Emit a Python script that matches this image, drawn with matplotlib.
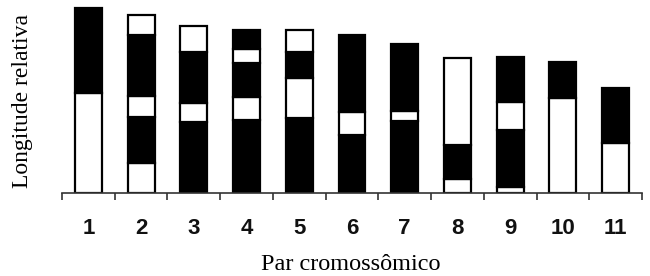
import matplotlib
matplotlib.use("Agg")
import matplotlib.pyplot as plt

# chromosome pairs and band lengths (from base upward), relative units
pairs = ["1", "2", "3", "4", "5", "6", "7", "8", "9", "10", "11"]
bands = [
    [100, 85],
    [30, 46, 21, 61, 20],
    [71, 19, 51, 26],
    [73, 23, 34, 14, 19],
    [75, 40, 26, 22],
    [58, 23, 77],
    [72, 10, 67],
    [14, 34, 87],
    [6, 57, 28, 45],
    [95, 36],
    [50, 55],
]
# colour of the lowest band; bands alternate from there
first_band = ["white", "white", "black", "black", "black", "black",
              "black", "white", "white", "white", "white"]

fig = plt.figure(figsize=(6.5, 2.76), dpi=100)
ax = fig.add_axes([62 / 650, 83 / 276, 580 / 650, 188 / 276])

for i, (segs, start) in enumerate(zip(bands, first_band)):
    x = i + 1
    bottom = 0
    col = start
    for h in segs:
        ax.bar(x, h, bottom=bottom, width=0.51, color=col,
               edgecolor="black", linewidth=1.6)
        bottom += h
        col = "white" if col == "black" else "black"

ax.set_xlim(0.5, 11.5)
ax.set_ylim(0, 188)
for s in ["left", "top", "right"]:
    ax.spines[s].set_visible(False)
ax.spines["bottom"].set_linewidth(1.2)
ax.spines["bottom"].set_color("#333333")
ax.set_yticks([])

ax.set_xticks(range(1, 12))
ax.set_xticklabels(pairs, fontfamily="Liberation Sans", fontweight="bold",
                   fontsize=16, color="#111111")
ax.set_xticks([k + 0.5 for k in range(0, 12)], minor=True)
ax.tick_params(axis="x", which="major", length=0, pad=18)
ax.tick_params(axis="x", which="minor", length=5, width=1.2, color="#333333")

fig.text(351 / 650, 1 - 264 / 276, "Par cromossômico", fontfamily="Liberation Serif",
         fontsize=17.5, ha="center", va="center")
fig.text(23 / 650, 1 - 101 / 276, "Longitude relativa", fontfamily="Liberation Serif",
         fontsize=17, ha="center", va="center", rotation=90)

fig.savefig("out.png", dpi=100)
